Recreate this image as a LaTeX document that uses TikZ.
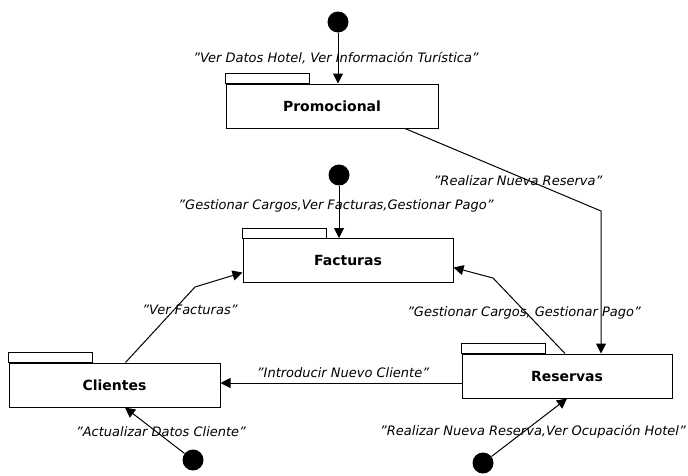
\documentclass[tikz,border=0pt]{standalone}
\usepackage{fontspec}
\setmainfont{DejaVu Sans}
\usetikzlibrary{arrows.meta,calc}
\begin{document}
\begin{tikzpicture}[x=1pt,y=-1pt,
  pkg/.style={draw,line width=1pt,minimum height=44pt,inner sep=0pt,font=\bfseries\fontsize{14}{16}\selectfont},
  startdot/.style={circle,fill=black,minimum size=21pt,inner sep=0pt},
  flow/.style={line width=1pt,-{Triangle[length=10pt,width=10pt]}},
  lbl/.style={font=\itshape\fontsize{13}{15}\selectfont,inner sep=0pt}]
\fill[white] (0,0) rectangle (688,475);
\useasboundingbox (0,0) rectangle (688,475);

% packages: body node plus a tab on its upper left corner
\node[pkg,minimum width=212pt] (promo) at (332,106) {Promocional};
\node[pkg,minimum width=210pt] (fact) at (348,260.5) {Facturas};
\node[pkg,minimum width=211pt] (cli) at (114.5,385) {Clientes};
\node[pkg,minimum width=210pt] (res) at (567,376) {Reservas};
\foreach \p in {promo,fact,cli,res}
  \draw[line width=1pt] (\p.north west) rectangle ++(84pt,10pt);

% initial states
\node[startdot] (d1) at (338,22) {};
\node[startdot] (d2) at (339,175) {};
\node[startdot] (d3) at (193,460) {};
\node[startdot] (d4) at (483,463) {};

% bend points
\coordinate (b1) at (601,211);
\coordinate (b2) at (195,287);
\coordinate (b3) at (493,278);

% transitions
\draw[flow] (d1) -- (d1 |- promo.north);
\draw[flow] (d2) -- (d2 |- fact.north);
\draw[flow] ([xshift=73pt]promo.south) -- (b1) -- (b1 |- res.north);
\draw[flow] ([xshift=11pt]cli.north) -- (b2) -- ([yshift=-12pt]fact.west);
\draw[flow] ([xshift=-2pt]res.north) -- (b3) -- ([yshift=-7pt]fact.east);
\draw[flow] ([yshift=-7pt]res.west) -- ([yshift=-7pt]res.west -| cli.east);
\draw[flow] (d3) -- ([xshift=10.5pt]cli.south);
\draw[flow] (d4) -- (res.south);

% transition labels
\node[lbl] (l1) at (336,58) {"Ver Datos Hotel, Ver Información Turística"};
\node[lbl] (l2) at (518,181) {"Realizar Nueva Reserva"};
\node[lbl] (l3) at (336,206) {"Gestionar Cargos,Ver Facturas,Gestionar Pago"};
\node[lbl] (l4) at (190,310) {"Ver Facturas"};
\node[lbl] (l5) at (524,313) {"Gestionar Cargos, Gestionar Pago"};
\node[lbl] (l6) at (343,373) {"Introducir Nuevo Cliente"};
\node[lbl] (l7) at (161,432) {"Actualizar Datos Cliente"};
\node[lbl] (l8) at (533,432) {"Realizar Nueva Reserva,Ver Ocupación Hotel"};
\end{tikzpicture}
\end{document}
